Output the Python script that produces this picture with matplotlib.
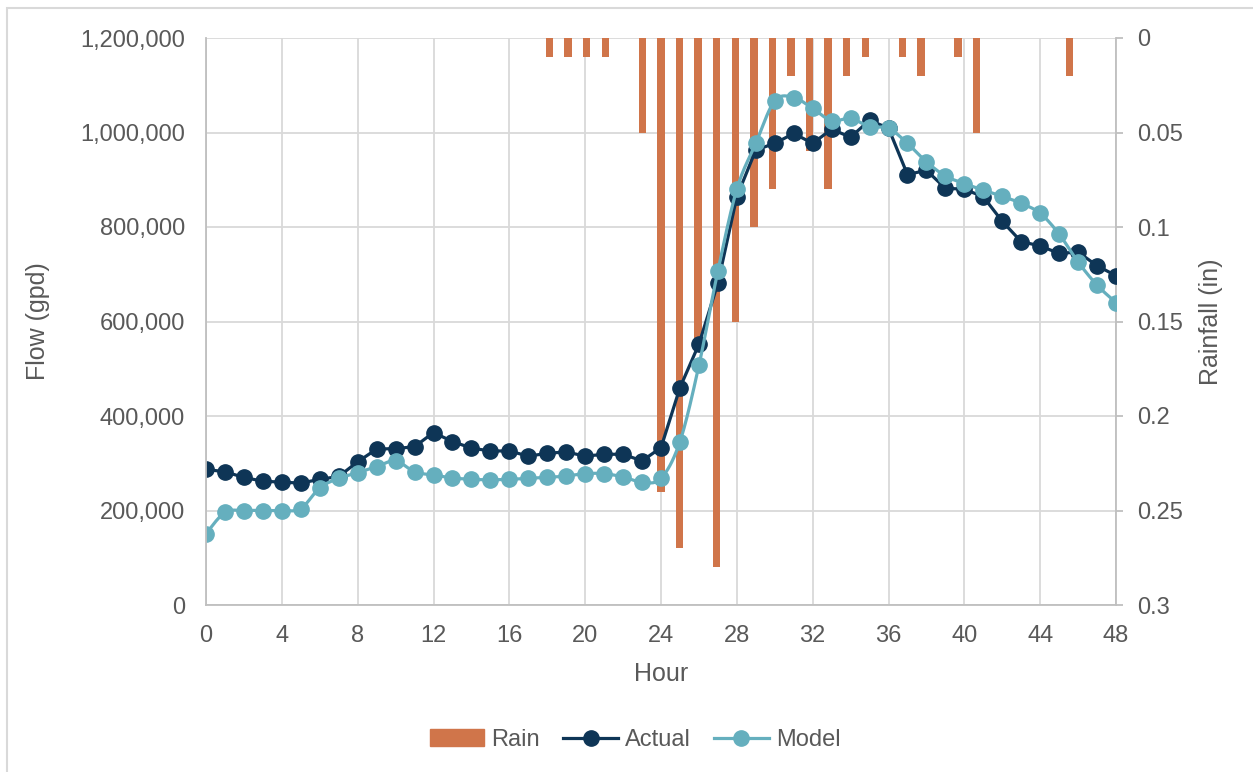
import matplotlib
matplotlib.use("Agg")
import matplotlib.pyplot as plt
from matplotlib.patches import Rectangle
from matplotlib.ticker import FuncFormatter, MultipleLocator
import numpy as np

plt.rcParams['font.family'] = ['Liberation Sans', 'DejaVu Sans']

# ---- data
hours = list(range(49))
actual = [287000, 282000, 270000, 262000, 260000, 258000, 266000, 272000, 303000, 330000,
          331000, 335000, 365000, 346000, 332000, 326000, 326000, 315000, 321000, 324000,
          315000, 319000, 319000, 305000, 333000, 460000, 552000, 681000, 864000, 963000,
          977000, 998000, 977000, 1007000, 990000, 1026000, 1009000, 911000, 920000, 882000,
          880000, 864000, 812000, 769000, 760000, 744000, 747000, 718000, 697000]
model = [151000, 196000, 200000, 200000, 200000, 204000, 248000, 268000, 280000, 293000,
         305000, 282000, 275000, 269000, 266000, 265000, 266000, 268000, 270000, 273000,
         278000, 278000, 271000, 260000, 268000, 346000, 507000, 707000, 880000, 977000,
         1067000, 1074000, 1051000, 1025000, 1030000, 1012000, 1009000, 977000, 938000, 908000,
         892000, 878000, 865000, 850000, 829000, 785000, 726000, 677000, 640000]
rain = [0, 0, 0, 0, 0, 0, 0, 0, 0, 0,
        0, 0, 0, 0, 0, 0, 0, 0, 0.01, 0.01,
        0.01, 0.01, 0, 0.05, 0.24, 0.27, 0.16, 0.28, 0.15, 0.10,
        0.08, 0.02, 0.06, 0.08, 0.02, 0.01, 0, 0.01, 0.02, 0,
        0.01, 0.05, 0, 0, 0, 0, 0.02, 0, 0]

c_rain = '#D0754A'
c_act = '#0E3556'
c_mod = '#65AFBE'
c_txt = '#595959'
c_grid = '#D9D9D9'
c_axis = '#BFBFBF'


def smooth(x, y, n=20):
    # excel-like smoothed line (catmull-rom as bezier)
    x = np.asarray(x, float); y = np.asarray(y, float)
    px = np.concatenate([[x[0]], x, [x[-1]]])
    py = np.concatenate([[y[0]], y, [y[-1]]])
    xs, ys = [], []
    t = np.linspace(0, 1, n)
    for i in range(1, len(px) - 2):
        p0 = np.array([px[i], py[i]]); p3 = np.array([px[i+1], py[i+1]])
        p1 = p0 + (np.array([px[i+1], py[i+1]]) - np.array([px[i-1], py[i-1]])) / 6
        p2 = p3 - (np.array([px[i+2], py[i+2]]) - np.array([px[i], py[i]])) / 6
        b = ((1-t)**3)[:, None]*p0 + (3*(1-t)**2*t)[:, None]*p1 + (3*(1-t)*t**2)[:, None]*p2 + (t**3)[:, None]*p3
        xs.extend(b[:, 0]); ys.extend(b[:, 1])
    return xs, ys


fig = plt.figure(figsize=(12.53, 7.72), dpi=100)
pos = [206/1253, 1-605/772, (1116-206)/1253, (605-38)/772]

# grid layer
ax_g = fig.add_axes(pos, zorder=0)
ax_g.set_xlim(0, 48); ax_g.set_ylim(0, 1200000)
ax_g.xaxis.set_major_locator(MultipleLocator(4))
ax_g.yaxis.set_major_locator(MultipleLocator(200000))
ax_g.grid(True, color=c_grid, lw=1.3)
ax_g.tick_params(left=False, bottom=False, labelleft=False, labelbottom=False)
for s in ax_g.spines.values():
    s.set_visible(False)

# rain layer
ax_r = fig.add_axes(pos, zorder=1)
ax_r.patch.set_visible(False)
ax_r.bar(hours, rain, width=0.4, color=c_rain)
ax_r.set_xlim(-0.5, 48.5)
ax_r.set_ylim(0.3, 0)
ax_r.yaxis.set_major_locator(MultipleLocator(0.05))
ax_r.yaxis.set_major_formatter(FuncFormatter(lambda v, p: '%g' % round(v, 2)))
ax_r.yaxis.tick_right()
ax_r.yaxis.set_label_position('right')
ax_r.tick_params(axis='y', direction='out', length=5, width=1.3, color=c_axis,
                 labelsize=17, labelcolor=c_txt, pad=10)
ax_r.tick_params(axis='x', bottom=False, labelbottom=False)
for s in ['top', 'left', 'bottom']:
    ax_r.spines[s].set_visible(False)
ax_r.spines['right'].set_color(c_axis)
ax_r.spines['right'].set_linewidth(1.3)
ax_r.set_ylabel('Rainfall (in)', fontsize=18, color=c_txt, labelpad=12)

# flow layer
ax = fig.add_axes(pos, zorder=2)
ax.patch.set_visible(False)
mx, my = smooth(hours, model)
ax.plot(hours, actual, color=c_act, lw=2.3, marker='o', ms=11, label='Actual')
ax.plot(mx, my, color=c_mod, lw=2.3)
ax.plot(hours, model, color=c_mod, lw=0, marker='o', ms=11)
ax.set_xlim(0, 48)
ax.set_ylim(0, 1200000)
ax.xaxis.set_major_locator(MultipleLocator(4))
ax.yaxis.set_major_locator(MultipleLocator(200000))
ax.yaxis.set_major_formatter(FuncFormatter(lambda v, p: '{:,.0f}'.format(v)))
ax.tick_params(left=False, bottom=False, labelsize=17, labelcolor=c_txt)
ax.tick_params(axis='y', pad=11.5)
ax.tick_params(axis='x', pad=11)
for s in ['top', 'right']:
    ax.spines[s].set_visible(False)
for s in ['left', 'bottom']:
    ax.spines[s].set_color(c_axis)
    ax.spines[s].set_linewidth(1.3)
ax.set_ylabel('Flow (gpd)', fontsize=18, color=c_txt, labelpad=22)
ax.set_xlabel('Hour', fontsize=18, color=c_txt, labelpad=11)

# legend
h_rain = Rectangle((0, 0), 1, 1, color=c_rain)
h_act = plt.Line2D([], [], color=c_act, lw=2.3, marker='o', ms=11)
h_mod = plt.Line2D([], [], color=c_mod, lw=2.3, marker='o', ms=11)
leg = fig.legend([h_rain, h_act, h_mod], ['Rain', 'Actual', 'Model'], loc='center',
                 bbox_to_anchor=(635/1253, 1-740/772), ncol=3, frameon=False,
                 fontsize=17, handlelength=2.3, handletextpad=0.3, columnspacing=1.0)
for t in leg.get_texts():
    t.set_color(c_txt)

# chart area border
fig.patches.append(Rectangle((7/1253, -0.1), 1.2, 1-8/772+0.1, transform=fig.transFigure,
                             fill=False, edgecolor=c_grid, lw=1.5))

fig.savefig('out.png', dpi=100)
